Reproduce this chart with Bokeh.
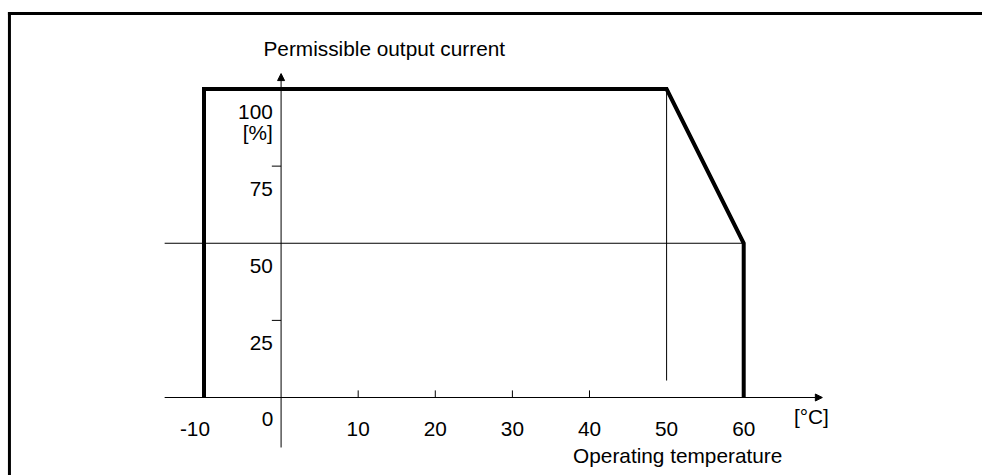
from bokeh.plotting import figure
from bokeh.models import Range1d, Arrow, NormalHead
from bokeh.core.properties import value
from bokeh.embed import file_html
from bokeh.resources import INLINE

# ---- data ----
curve_temp = [-10, -10, 50, 60, 60]          # °C
curve_current = [0, 100, 100, 50, 0]         # %
x_tick_values = [10, 20, 30, 40]
x_label_values = [10, 20, 30, 40, 50, 60]
x_label_texts = ["10", "20", "30", "40", "50", "60"]
y_tick_values = [25, 75]
y_label_values = [25, 50, 75, 100]
y_label_texts = ["25", "50", "75", "100"]
ref_level = 50        # horizontal guide at 50 %
ref_temp = 50         # vertical guide at 50 °C
x_axis_span = [-15.1, 70.2]
y_axis_span = [-16.2, 105.0]

FONT = value("Liberation Sans")
FS = value("20.8px")

X0, X1 = -36.39, 90.97
Y0, Y1 = -25.28, 128.69
p = figure(width=982, height=475,
           x_range=Range1d(X0, X1), y_range=Range1d(Y0, Y1),
           output_backend="svg", toolbar_location=None, min_border=0,
           x_axis_type=None, y_axis_type=None)
p.grid.grid_line_color = None
p.outline_line_color = None
p.background_fill_color = "white"
p.border_fill_color = "white"

# frame (left and top edges, meeting at a corner)
FX, FY = -35.23, 124.47
p.segment(x0=[FX, FX], y0=[Y0, FY], x1=[FX, X1], y1=[FY, FY],
          line_color="black", line_width=3, line_cap="square")

# axes with arrows
p.add_layout(Arrow(end=NormalHead(size=7, line_color="black", fill_color="black", line_width=1),
                   x_start=x_axis_span[0], y_start=0, x_end=x_axis_span[1], y_end=0,
                   line_color="black", line_width=1))
p.add_layout(Arrow(end=NormalHead(size=7, line_color="black", fill_color="black", line_width=1),
                   x_start=0, y_start=y_axis_span[0], x_end=0, y_end=y_axis_span[1],
                   line_color="black", line_width=1))

# tick marks
p.segment(x0=x_tick_values, y0=[0] * len(x_tick_values),
          x1=x_tick_values, y1=[2.3] * len(x_tick_values),
          line_color="black", line_width=1)
p.segment(x0=[-1.2] * len(y_tick_values), y0=y_tick_values,
          x1=[0] * len(y_tick_values), y1=y_tick_values,
          line_color="black", line_width=1)

# guide lines
p.segment(x0=[x_axis_span[0]], y0=[ref_level], x1=[curve_temp[-1]], y1=[ref_level],
          line_color="black", line_width=1)
p.segment(x0=[ref_temp], y0=[5.5], x1=[ref_temp], y1=[100],
          line_color="black", line_width=1)

# derating curve
p.line(curve_temp, curve_current, line_color="black", line_width=4, line_join="miter")

# tick labels
p.text(x=x_label_values, y=[0] * len(x_label_values), text=x_label_texts,
       text_align="center", text_baseline="alphabetic", y_offset=31,
       text_font=FONT, text_font_size=FS, text_color="black")
p.text(x=[-10], y=[0], text=["-10"], text_align="center", text_baseline="alphabetic",
       x_offset=-9, y_offset=31, text_font=FONT, text_font_size=FS, text_color="black")
p.text(x=[0], y=[0], text=["0"], text_align="center", text_baseline="alphabetic",
       x_offset=-13.6, y_offset=21, text_font=FONT, text_font_size=FS, text_color="black")
p.text(x=[0] * len(y_label_values), y=y_label_values, text=y_label_texts,
       text_align="right", text_baseline="alphabetic", x_offset=-8.3, y_offset=22.5,
       text_font=FONT, text_font_size=FS, text_color="black")
p.text(x=[0], y=[100], text=["[%]"], text_align="right", text_baseline="alphabetic",
       x_offset=-8.3, y_offset=43.5, text_font=FONT, text_font_size=FS, text_color="black")

# axis titles
p.text(x=[0], y=[100], text=["Permissible output current"], text_align="left",
       text_baseline="alphabetic", x_offset=-17.6, y_offset=-40.3,
       text_font=FONT, text_font_size=FS, text_color="black")
p.text(x=[60], y=[0], text=["Operating temperature"], text_align="center",
       text_baseline="alphabetic", x_offset=-66, y_offset=58,
       text_font=FONT, text_font_size=FS, text_color="black")
p.text(x=[x_axis_span[1]], y=[0], text=["[°C]"], text_align="center",
       text_baseline="alphabetic", x_offset=-11, y_offset=19,
       text_font=FONT, text_font_size=FS, text_color="black")

open("out.html", "w").write(file_html(p, INLINE))
